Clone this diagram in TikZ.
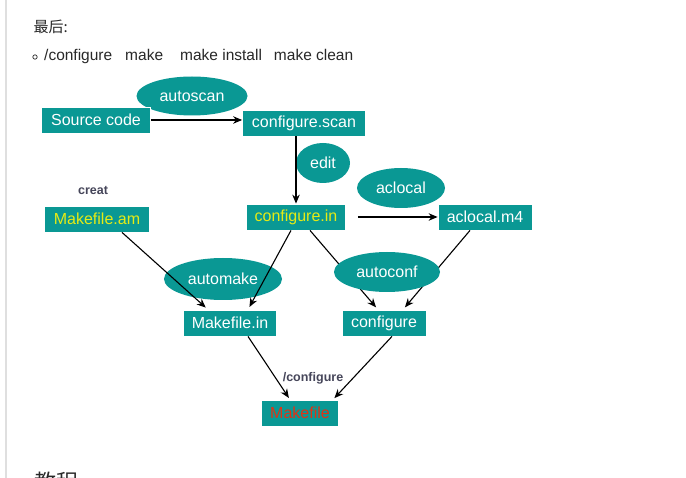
\documentclass[tikz,border=0pt]{standalone}
\usepackage{fontspec}
\setmainfont{Liberation Sans}
\newfontfamily\cjkfont{Noto Sans CJK SC}
\usetikzlibrary{arrows.meta,shapes.geometric}

\definecolor{tealbox}{RGB}{10,152,148}
\definecolor{yellowtext}{RGB}{230,235,20}
\definecolor{redtext}{RGB}{225,50,20}
\definecolor{pagetext}{RGB}{40,40,40}
\definecolor{labeltext}{RGB}{70,70,90}

\begin{document}
\begin{tikzpicture}[x=1pt, y=-1pt,
    filebox/.style={rectangle, fill=tealbox, draw=white, line width=0.8pt, text=white,
        font=\fontsize{16}{17}\selectfont, inner xsep=6pt, minimum height=26pt},
    toolblob/.style={ellipse, fill=tealbox, text=white, font=\fontsize{16}{17}\selectfont, inner sep=0pt},
    steplabel/.style={text=labeltext, font=\bfseries\fontsize{12.5}{13}\selectfont},
    flow/.style={draw=black, line width=1.1pt, -{Stealth[length=9pt,width=7.5pt]}}]

    \clip (0,0) rectangle (686,478);
    \fill[white] (0,0) rectangle (686,478);
    \draw[gray!25, line width=1.5pt] (6,0) -- (6,478);

    % page text
    \node[anchor=west, text=pagetext, font=\cjkfont\fontsize{15}{16}\selectfont] (title) at (30,27) {最后:};
    \draw[pagetext, line width=0.7pt] (35,57) circle (2.2pt);
    \node[anchor=west, text=pagetext, font=\fontsize{15.5}{16}\selectfont, inner xsep=0pt] (cmds) at (44,56)
        {/configure\hspace{13pt}make\hspace{17pt}make install\hspace{12pt}make clean};
    \node[anchor=west, text=pagetext, font=\cjkfont\fontsize{22}{23}\selectfont] (next) at (31,482) {教程};

    % tools behind the boxes
    \node[toolblob, minimum width=111pt, minimum height=39pt] (autoscan) at (192,96) {autoscan};

    % files
    \node[filebox, minimum width=109pt] (src) at (96,120) {Source code};
    \node[filebox, minimum width=123pt] (scan) at (304,123) {configure.scan};
    \node[filebox, minimum width=99pt, text=yellowtext] (cin) at (296,217) {configure.in};
    \node[filebox, minimum width=105pt, text=yellowtext] (mam) at (97,219) {Makefile.am};
    \node[filebox, minimum width=94pt] (m4) at (485,217) {aclocal.m4};
    \node[filebox, minimum width=93pt] (min) at (230,323) {Makefile.in};
    \node[filebox, minimum width=84pt] (conf) at (384,323) {configure};
    \node[filebox, minimum width=77pt, text=redtext] (mk) at (300,413) {Makefile};

    \node[toolblob, minimum width=54pt, minimum height=40pt] (edit) at (323,163) {edit};
    \node[toolblob, minimum width=88pt, minimum height=40pt] (aclocal) at (401,188) {aclocal};
    \node[toolblob, minimum width=118pt, minimum height=42pt] (automake) at (223,279) {automake};

    \node[steplabel] (creat) at (93,190) {creat};
    \node[steplabel] (run) at (313,378) {/configure};

    % arrows
    \draw[flow] (src.east) -- (src.east -| scan.west);
    \draw[flow] (cin.north |- scan.south) -- (cin.north);
    \draw[flow, shorten <=12pt] (cin.east) -- (m4.west);
    \draw[flow, shorten >=3pt] ([xshift=25pt]mam.south) -- ([xshift=-22pt]min.north);
    \draw[flow, shorten >=3pt] ([xshift=-5pt]cin.south) -- ([xshift=18pt]min.north);
    \draw[flow, shorten >=3pt] ([xshift=14pt]cin.south) -- ([xshift=-6pt]conf.north);
    \draw[flow, shorten >=3pt] ([xshift=-15pt]m4.south) -- ([xshift=19pt]conf.north);
    \draw[flow, shorten >=2pt] ([xshift=18pt]min.south) -- ([xshift=-10pt]mk.north);
    \draw[flow, shorten >=2pt] ([xshift=8pt]conf.south) -- ([xshift=33pt]mk.north);

    % autoconf lies over its arrows
    \node[toolblob, minimum width=106pt, minimum height=40pt] (autoconf) at (387,272) {autoconf};
\end{tikzpicture}
\end{document}
